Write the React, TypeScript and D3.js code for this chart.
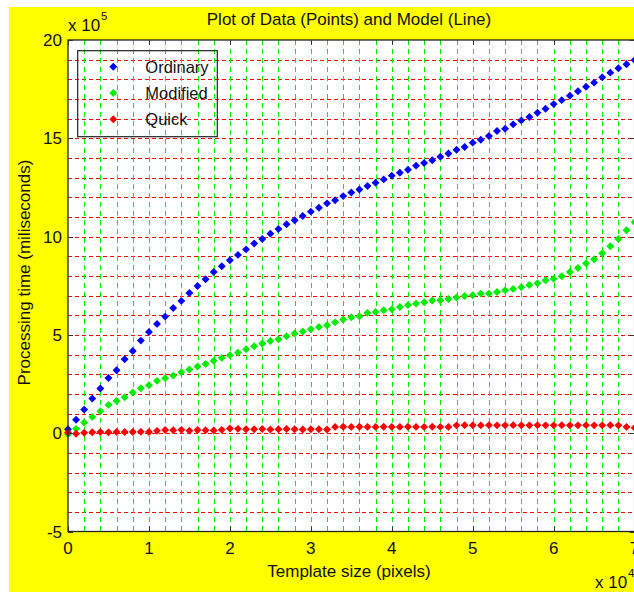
import React from "react";
import * as d3 from "d3";

// template size, x 10^4 pixels
const templateSize = [
  0, 0.1, 0.2, 0.3, 0.4, 0.5, 0.6, 0.7, 0.8, 0.9,
  1.0, 1.1, 1.2, 1.3, 1.4, 1.5, 1.6, 1.7, 1.8, 1.9,
  2.0, 2.1, 2.2, 2.3, 2.4, 2.5, 2.6, 2.7, 2.8, 2.9,
  3.0, 3.1, 3.2, 3.3, 3.4, 3.5, 3.6, 3.7, 3.8, 3.9,
  4.0, 4.1, 4.2, 4.3, 4.4, 4.5, 4.6, 4.7, 4.8, 4.9,
  5.0, 5.1, 5.2, 5.3, 5.4, 5.5, 5.6, 5.7, 5.8, 5.9,
  6.0, 6.1, 6.2, 6.3, 6.4, 6.5, 6.6, 6.7, 6.8, 6.9,
  7.0,
];

// processing time, x 10^5 ms
const ordinary = [
  0.2, 0.68, 1.2, 1.76, 2.27, 2.81, 3.2, 3.76, 4.18, 4.71,
  5.15, 5.56, 5.93, 6.37, 6.73, 7.13, 7.49, 7.83, 8.2, 8.49,
  8.8, 9.07, 9.35, 9.65, 9.88, 10.15, 10.39, 10.63, 10.83, 11.05,
  11.27, 11.47, 11.69, 11.85, 12.06, 12.24, 12.4, 12.57, 12.74, 12.91,
  13.1, 13.25, 13.4, 13.61, 13.74, 13.88, 14.06, 14.23, 14.42, 14.56,
  14.78, 14.93, 15.12, 15.37, 15.49, 15.71, 15.91, 16.08, 16.3, 16.5,
  16.74, 16.94, 17.17, 17.39, 17.62, 17.83, 18.1, 18.34, 18.56, 18.77,
  18.98,
];

const modified = [
  -0.05, 0.22, 0.54, 0.83, 1.12, 1.44, 1.64, 1.83, 2.07, 2.29,
  2.44, 2.66, 2.8, 2.93, 3.1, 3.24, 3.39, 3.52, 3.68, 3.83,
  3.97, 4.1, 4.27, 4.42, 4.56, 4.69, 4.78, 4.93, 5.07, 5.17,
  5.29, 5.4, 5.49, 5.64, 5.78, 5.9, 5.95, 6.12, 6.17, 6.25,
  6.3, 6.42, 6.52, 6.59, 6.66, 6.75, 6.76, 6.83, 6.9, 6.98,
  7.02, 7.1, 7.1, 7.18, 7.27, 7.34, 7.42, 7.54, 7.63, 7.78,
  7.85, 7.98, 8.2, 8.4, 8.64, 8.85, 9.15, 9.51, 9.88, 10.32,
  10.74,
];

const quick = [
  0.03, -0.03, 0.02, 0.05, 0.06, 0.05, 0.06, 0.06, 0.06, 0.07,
  0.06, 0.12, 0.16, 0.15, 0.17, 0.13, 0.16, 0.15, 0.14, 0.17,
  0.24, 0.22, 0.2, 0.2, 0.21, 0.19, 0.2, 0.21, 0.2, 0.19,
  0.2, 0.2, 0.19, 0.32, 0.33, 0.32, 0.33, 0.32, 0.32, 0.33,
  0.32, 0.32, 0.33, 0.32, 0.32, 0.33, 0.32, 0.32, 0.4, 0.41,
  0.4, 0.4, 0.41, 0.4, 0.4, 0.41, 0.4, 0.4, 0.41, 0.4,
  0.4, 0.41, 0.4, 0.4, 0.41, 0.4, 0.4, 0.41, 0.4, 0.32,
  0.28,
];

const seriesNames = ["Ordinary", "Modified", "Quick"];
const seriesColors = ["#0000ff", "#00ee00", "#ff0000"];
const seriesValues = [ordinary, modified, quick];

const xTicks = [0, 1, 2, 3, 4, 5, 6, 7];
const yTicks = [-5, 0, 5, 10, 15, 20];
const xGrid = [0.2, 0.4, 0.6, 0.8, 1, 1.2, 1.4, 1.6, 1.8, 2, 2.2, 2.4, 2.6, 2.8, 3, 3.2, 3.4, 3.6, 3.8, 4, 4.2, 4.4, 4.6, 4.8, 5, 5.2, 5.4, 5.6, 5.8, 6, 6.2, 6.4, 6.6, 6.8];
const yGrid = [-4, -3, -2, -1, 0, 1, 2, 3, 4, 5, 6, 7, 8, 9, 10, 11, 12, 13, 14, 15, 16, 17, 18, 19];

const W = 634, H = 592;
const left = 68, top = 40, right = 634.6, bottom = 531.5;
const font = "'Liberation Sans', Arial, sans-serif";

// snap a 1px line onto the pixel grid
const px = (v: number) => Math.round(v) + 0.5;

export default function App() {
  const x = d3.scaleLinear().domain([0, 7]).range([left, right]);
  const y = d3.scaleLinear().domain([-5, 20]).range([bottom, top]);
  const marker = d3.symbol().type(d3.symbolDiamond2).size(40)();

  return (
    <svg width={W} height={H} style={{ position: "absolute", left: 0, top: 0, fontFamily: font }}>
      <rect x={0} y={0} width={W} height={H} fill="#fff" />
      <rect x={9} y={7} width={W - 9} height={H - 7} fill="#ffff00" />
      <rect x={left} y={top} width={right - left} height={bottom - top} fill="#fff" />

      {/* grid */}
      {yGrid.map((v) => (
        <line key={"h" + v} x1={left} x2={right} y1={px(y(v))} y2={px(y(v))}
          stroke="#ff0000" strokeWidth={1} strokeDasharray="4,3" />
      ))}
      {xGrid.map((u) => (
        <line key={"v" + u} x1={px(x(u))} x2={px(x(u))} y1={top} y2={bottom}
          stroke="#00ee00" strokeWidth={1} strokeDasharray="5,4" />
      ))}

      {/* data */}
      {seriesValues.map((vals, si) => (
        <g key={si} fill={seriesColors[si]}>
          {vals.map((v, i) => (
            <path key={i} d={marker} transform={`translate(${x(templateSize[i])},${y(v)})`} />
          ))}
        </g>
      ))}

      {/* axes box and ticks */}
      <rect x={left} y={top} width={right - left} height={bottom - top} fill="none" stroke="#222" strokeWidth={1.3} />
      {xTicks.map((t) => (
        <g key={"xt" + t} stroke="#333">
          <line x1={px(x(t))} x2={px(x(t))} y1={bottom} y2={bottom - 5} />
          <line x1={px(x(t))} x2={px(x(t))} y1={top} y2={top + 5} />
        </g>
      ))}
      {yTicks.map((t) => (
        <g key={"yt" + t} stroke="#333">
          <line x1={left} x2={left + 5} y1={px(y(t))} y2={px(y(t))} />
          <line x1={right} x2={right - 5} y1={px(y(t))} y2={px(y(t))} />
        </g>
      ))}

      {/* tick labels */}
      {xTicks.map((t) => (
        <text key={"xl" + t} x={x(t)} y={bottom + 22.5} textAnchor="middle" fontSize={17} fill="#111">{t}</text>
      ))}
      {yTicks.map((t) => (
        <text key={"yl" + t} x={left - 6} y={y(t)} dy="0.36em" textAnchor="end" fontSize={17} fill="#111">{t}</text>
      ))}

      {/* exponents */}
      <text x={68} y={31} fontSize={17} fill="#111">x 10</text>
      <text x={101} y={20} fontSize={11.5} fill="#111">5</text>
      <text x={595} y={588} fontSize={17} fill="#111">x 10</text>
      <text x={628} y={577} fontSize={11.5} fill="#111">4</text>

      {/* titles */}
      <text x={349} y={25} textAnchor="middle" fontSize={17} fill="#111">Plot of Data (Points) and Model (Line)</text>
      <text x={349} y={577} textAnchor="middle" fontSize={17} fill="#111">Template size (pixels)</text>
      <text transform={`translate(29.5,272.5) rotate(-90)`} textAnchor="middle" fontSize={17} fill="#111">Processing time (miliseconds)</text>

      {/* legend */}
      <rect x={77.7} y={50.7} width={139.6} height={86} fill="none" stroke="#222" strokeWidth={1.2} />
      {seriesNames.map((n, i) => (
        <g key={n} transform={`translate(113.3,${66.7 + i * 26.3})`}>
          <path d={marker} fill={seriesColors[i]} />
          <text x={32} dy="0.36em" fontSize={16.5} fill="#111">{n}</text>
        </g>
      ))}
    </svg>
  );
}
